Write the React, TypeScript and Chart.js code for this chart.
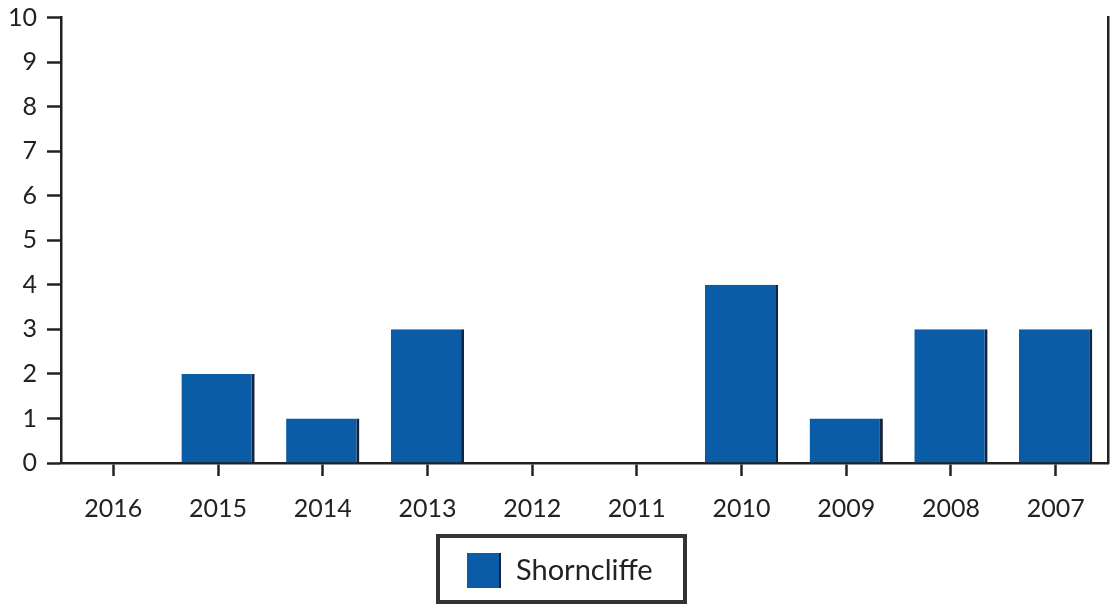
import React, { useEffect, useRef } from "react";
import { Chart, registerables } from "chart.js";

Chart.register(...registerables);

const categories = ["2016", "2015", "2014", "2013", "2012", "2011", "2010", "2009", "2008", "2007"];
const seriesName = "Shorncliffe";
const seriesValues = [0, 2, 1, 3, 0, 0, 4, 1, 3, 3];
const yTicks = [0, 1, 2, 3, 4, 5, 6, 7, 8, 9, 10];

const BAR_COLOR = "#0b5ca6";
const EDGE_COLOR = "#14233f";
const INK = "#222222";
const FONT = "Lato, 'DejaVu Sans', sans-serif";

const boxedLegend = {
  id: "boxedLegend",
  afterDraw(chart: any) {
    const ctx = chart.ctx;
    const ds = chart.data.datasets[0];
    const bx = 438, by = 536, bw = 247, bh = 66;
    ctx.save();
    ctx.fillStyle = "#ffffff";
    ctx.fillRect(bx, by, bw, bh);
    ctx.strokeStyle = "#333333";
    ctx.lineWidth = 4;
    ctx.strokeRect(bx, by, bw, bh);
    ctx.fillStyle = ds.backgroundColor;
    ctx.fillRect(bx + 29, by + 17, 34, 35);
    ctx.fillStyle = EDGE_COLOR;
    ctx.fillRect(bx + 61, by + 17, 2, 35);
    ctx.fillStyle = INK;
    ctx.font = "29px " + FONT;
    ctx.textBaseline = "middle";
    ctx.textAlign = "left";
    ctx.fillText(ds.label, bx + 78, by + 35);
    ctx.restore();
  },
};

export default function App() {
  const ref = useRef<HTMLCanvasElement | null>(null);
  useEffect(() => {
    if (!ref.current) return;
    const chart = new Chart(ref.current, {
      type: "bar",
      data: {
        labels: categories,
        datasets: [
          {
            label: seriesName,
            data: seriesValues,
            backgroundColor: BAR_COLOR,
            borderColor: EDGE_COLOR,
            borderWidth: { top: 0, left: 0, bottom: 0, right: 3 } as any,
            borderSkipped: false,
            barPercentage: 0.7,
            categoryPercentage: 1,
          },
        ],
      },
      options: {
        animation: false,
        responsive: true,
        maintainAspectRatio: false,
        layout: { padding: { top: 16, right: 5, bottom: 75, left: 0 } },
        plugins: { legend: { display: false }, tooltip: { enabled: false } },
        scales: {
          x: {
            offset: true,
            grid: {
              display: true,
              drawOnChartArea: false,
              offset: false,
              tickLength: 13,
              tickWidth: 2.5,
              color: INK,
            },
            border: { display: true, color: INK, width: 2.5 },
            ticks: { color: INK, font: { family: FONT, size: 25 }, padding: 18, maxRotation: 0 },
            afterFit: (s: any) => {
              s.height = 67;
            },
          },
          y: {
            min: 0,
            max: 10,
            afterBuildTicks: (s: any) => {
              s.ticks = yTicks.map((v) => ({ value: v }));
            },
            grid: {
              display: true,
              drawOnChartArea: false,
              tickLength: 14,
              tickWidth: 2.5,
              color: INK,
            },
            border: { display: true, color: INK, width: 2.5 },
            ticks: { color: INK, font: { family: FONT, size: 25, lineHeight: 0.6 }, padding: 10 },
            afterFit: (s: any) => {
              s.width = 61;
            },
          },
          y2: {
            position: "right",
            min: 0,
            max: 10,
            grid: { display: false },
            ticks: { display: false },
            border: { display: true, color: INK, width: 2.5 },
            afterFit: (s: any) => {
              s.width = 0;
            },
          },
        },
      },
      plugins: [boxedLegend],
    });
    return () => chart.destroy();
  }, []);

  return (
    <div style={{ position: "absolute", left: 0, top: 0, width: 1113, height: 605, background: "#ffffff" }}>
      <canvas ref={ref} />
    </div>
  );
}
